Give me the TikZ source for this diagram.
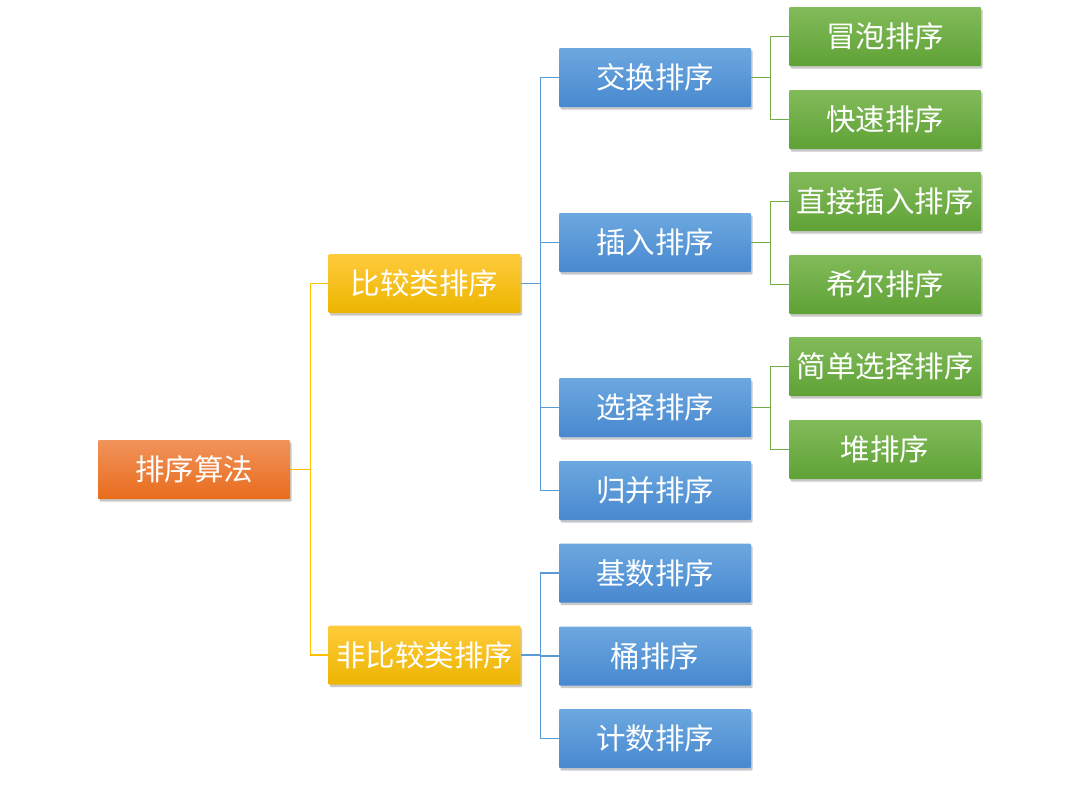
\documentclass[tikz,border=0pt]{standalone}
\usepackage{fontspec}
\setmainfont{Noto Sans CJK SC}
\usetikzlibrary{shadows}
\definecolor{orT}{HTML}{F1935C}\definecolor{orB}{HTML}{E86C1C}
\definecolor{yeT}{HTML}{FFCB3C}\definecolor{yeB}{HTML}{ECB500}
\definecolor{blT}{HTML}{6DA8DF}\definecolor{blB}{HTML}{4788CF}
\definecolor{grT}{HTML}{82BB5A}\definecolor{grB}{HTML}{5FA236}
\definecolor{yeL}{HTML}{FFC000}\definecolor{blL}{HTML}{5B9BD5}\definecolor{grL}{HTML}{70AD47}
\tikzset{
  boxbase/.style={minimum width=192pt, minimum height=59pt, inner sep=0pt, text=white,
    font=\fontsize{29.5}{32}\selectfont, rounded corners=1pt,
    drop shadow={shadow xshift=1.5pt, shadow yshift=-2.5pt, opacity=0.35, fill=black!60}},
  orbox/.style={boxbase, top color=orT, bottom color=orB},
  yebox/.style={boxbase, top color=yeT, bottom color=yeB},
  blbox/.style={boxbase, top color=blT, bottom color=blB},
  grbox/.style={boxbase, top color=grT, bottom color=grB},
  yeline/.style={draw=yeL, line width=1.2pt},
  blline/.style={draw=blL, line width=1.2pt},
  grline/.style={draw=grL, line width=1.2pt},
}
\begin{document}
\begin{tikzpicture}[x=1pt,y=-1pt]
\useasboundingbox[fill=white] (0,0) rectangle (1080,787);
\node[orbox] (root) at (194,469.5) {排序算法};
\node[yebox] (cmp) at (424.5,283.5) {比较类排序};
\node[yebox] (ncmp) at (424.5,655) {非比较类排序};
\node[blbox] (swap) at (655,77.5) {交换排序};
\node[blbox] (ins) at (655,242.5) {插入排序};
\node[blbox] (sel) at (655,407.5) {选择排序};
\node[blbox] (mrg) at (655,490.5) {归并排序};
\node[blbox] (rad) at (655,573) {基数排序};
\node[blbox] (bkt) at (655,656) {桶排序};
\node[blbox] (cnt) at (655,738.5) {计数排序};
\node[grbox] (bub) at (885,36.5) {冒泡排序};
\node[grbox] (qck) at (885,119.5) {快速排序};
\node[grbox] (dins) at (885,201.5) {直接插入排序};
\node[grbox] (shl) at (885,284.5) {希尔排序};
\node[grbox] (ssel) at (885,366.5) {简单选择排序};
\node[grbox] (hp) at (885,449.5) {堆排序};
% connectors
\foreach \c in {cmp,ncmp}{\draw[yeline] (root.east) -- ++(20,0) |- (\c.west);}
\foreach \c in {swap,ins,sel,mrg}{\draw[blline] (cmp.east) -- ++(19.5,0) |- (\c.west);}
\foreach \c in {rad,bkt,cnt}{\draw[blline] (ncmp.east) -- ++(19.5,0) |- (\c.west);}
\foreach \c in {bub,qck}{\draw[grline] (swap.east) -- ++(19,0) |- (\c.west);}
\foreach \c in {dins,shl}{\draw[grline] (ins.east) -- ++(19,0) |- (\c.west);}
\foreach \c in {ssel,hp}{\draw[grline] (sel.east) -- ++(19,0) |- (\c.west);}
\end{tikzpicture}
\end{document}
